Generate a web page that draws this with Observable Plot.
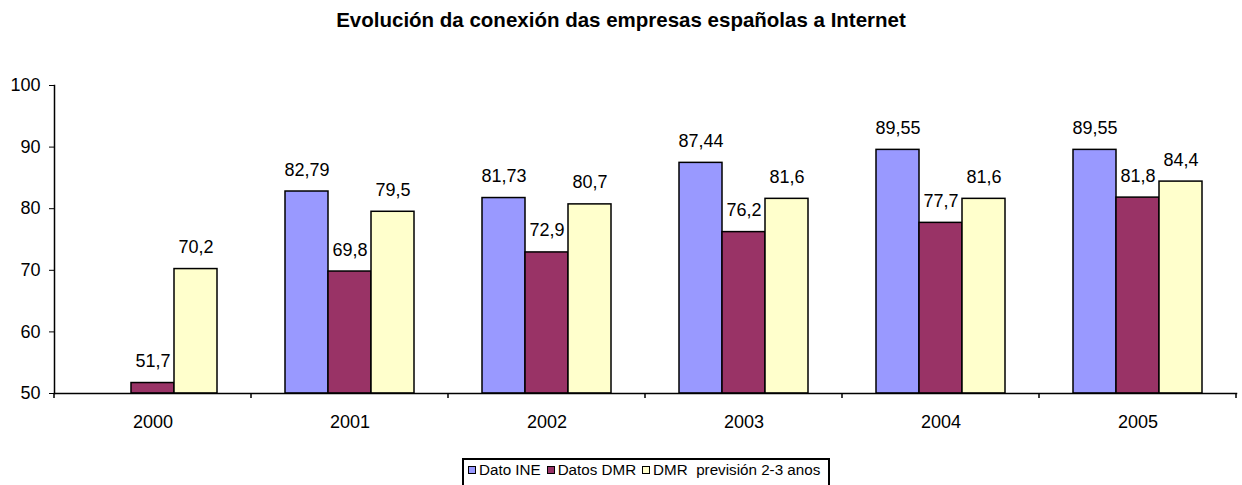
<!DOCTYPE html>
<html>
<head>
<meta charset="utf-8">
<script src="https://cdn.jsdelivr.net/npm/d3@7"></script>
<script src="https://cdn.jsdelivr.net/npm/@observablehq/plot@0.6"></script>
<style>
  html, body { margin: 0; padding: 0; background: #fff; }
  body { width: 1242px; height: 485px; overflow: hidden; position: relative; font-family: "Liberation Sans", Arial, sans-serif; }
  #title { position: absolute; left: 0; top: 8px; width: 1242px; text-align: center; font-weight: bold; font-size: 20.5px; line-height: normal; color: #000; }
  #legend { position: absolute; left: 462px; top: 458px; width: 368px; height: 40px; border: 2px solid #000; box-sizing: border-box;
            display: flex; align-items: flex-start; padding: 1px 0 0 4px; font-size: 15.2px; color: #000; }
  .item { display: flex; align-items: center; margin-right: 6px; }
  .sw { width: 6px; height: 6px; border: 1.5px solid #000; margin-right: 3px; }
  #chart { position: absolute; left: 0; top: 45px; }
</style>
</head>
<body>
<div id="title">Evolución da conexión das empresas españolas a Internet</div>
<div id="chart"></div>
<div id="legend"></div>
<script>
const years = ["2000", "2001", "2002", "2003", "2004", "2005"];
const series = ["Dato INE", "Datos DMR", "DMR  previsión 2-3 anos"];
const datoINE = [null, 82.79, 81.73, 87.44, 89.55, 89.55];
const datosDMR = [51.7, 69.8, 72.9, 76.2, 77.7, 81.8];
const dmrPrevision = [70.2, 79.5, 80.7, 81.6, 81.6, 84.4];
const colors = ["#9999FF", "#993366", "#FFFFCC"];
const yTicks = [50, 60, 70, 80, 90, 100];

const values = [datoINE, datosDMR, dmrPrevision];
const data = [];
years.forEach((y, i) => {
  series.forEach((s, j) => {
    const v = values[j][i];
    if (v != null) data.push({year: y, series: s, value: v});
  });
});
const fmt = v => String(v).replace(".", ",");

const chart = Plot.plot({
  width: 1242,
  height: 405,
  marginLeft: 53,
  marginRight: 6,
  marginTop: 40,
  marginBottom: 57,
  style: {fontFamily: "'Liberation Sans', Arial, sans-serif", fontSize: "18px", color: "#000", background: "#fff"},
  fx: {domain: years, padding: 0, label: null},
  x: {domain: series, paddingInner: 0, paddingOuter: 0.74, axis: null},
  y: {domain: [50, 100], label: null},
  color: {domain: series, range: colors},
  marks: [
    Plot.barY(data, {fx: "year", x: "series", y1: 50, y2: "value", fill: "series", stroke: "#000", strokeWidth: 1.5}),
    Plot.text(data, {fx: "year", x: "series", y: "value", text: d => fmt(d.value), lineAnchor: "bottom", dy: -16, fontSize: 18, fill: "#000"}),
    Plot.axisY({ticks: yTicks, tickSize: 5, tickPadding: 9, fontSize: 18, tickFormat: d => d, label: null}),
    Plot.axisFx({anchor: "bottom", tickSize: 0, tickPadding: 22, fontSize: 18, label: null}),
    Plot.frame({anchor: "left", facet: "super", stroke: "#000", strokeWidth: 1.5}),
    Plot.frame({anchor: "bottom", facet: "super", stroke: "#000", strokeWidth: 1.5})
  ]
});
document.getElementById("chart").appendChild(chart);

// category boundary tick marks, positioned from the fx band scale
const fx = chart.scale("fx");
const svg = d3.select(chart);
const yb = chart.scale("y").apply(50);
const edges = years.map(y => fx.apply(y)).concat([fx.apply(years[years.length - 1]) + fx.bandwidth]);
svg.append("g").attr("stroke", "#000").attr("stroke-width", 1.5)
  .selectAll("line").data(edges).join("line")
  .attr("x1", d => d).attr("x2", d => d).attr("y1", yb).attr("y2", yb + 5);

// legend
const legend = d3.select("#legend");
series.forEach((s, i) => {
  const it = legend.append("div").attr("class", "item");
  it.append("div").attr("class", "sw").style("background", colors[i]);
  it.append("span").style("white-space", "pre").text(s);
});
</script>
</body>
</html>
